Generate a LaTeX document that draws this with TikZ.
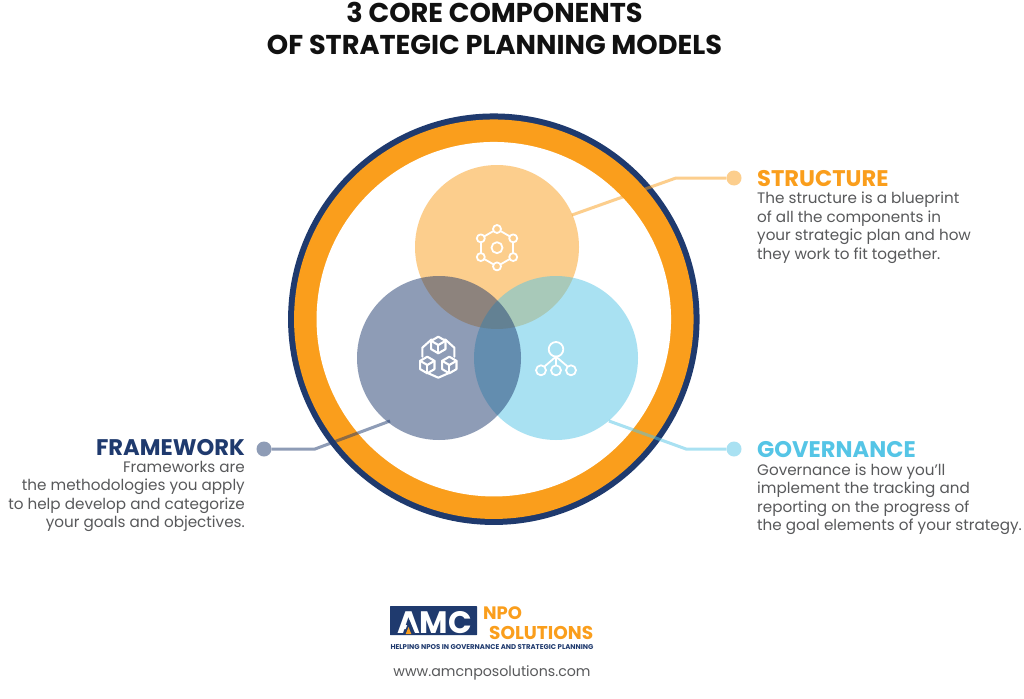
\documentclass[tikz,border=0pt]{standalone}
\usepackage{fontspec}
\usetikzlibrary{calc}
\setmainfont{Poppins}
\definecolor{ringorange}{HTML}{FA9E1C}
\definecolor{navy}{HTML}{1F3A6E}
\definecolor{sky}{HTML}{55C5E6}
\definecolor{bodygray}{HTML}{58595B}
\definecolor{titleblack}{HTML}{111111}
\tikzset{
  px/.style={x=1pt,y=-1pt},
  venn/.style={circle,minimum size=164pt,inner sep=0pt,fill opacity=.5,text opacity=1},
  dotend/.style={circle,minimum size=15pt,inner sep=0pt,fill opacity=.5},
  leader/.style={line width=3pt,opacity=.5},
  head/.style={font=\bfseries\fontsize{22.6}{24}\selectfont,inner sep=0pt},
  copyr/.style={font=\fontsize{15.2}{18.5}\selectfont,text=bodygray,inner sep=0pt,align=left},
  copyl/.style={font=\fontsize{15.2}{18.5}\selectfont,text=bodygray,inner sep=0pt,align=right},
  ico/.style={draw=white,line width=1.8pt,fill=none,line join=round,line cap=round},
  cubeline/.style={ico,line width=2.1pt},
  pics/isocube/.style={code={
    \draw[cubeline] (90:8.3) -- (30:8.3) -- (-30:8.3) -- (-90:8.3) -- (-150:8.3) -- (150:8.3) -- cycle;
    \draw[cubeline] (0,0) -- (-30:8.3);
    \draw[cubeline] (0,0) -- (-150:8.3);
    \draw[cubeline] (0,0) -- (90:8.3);
  }},
}
\begin{document}
\begin{tikzpicture}[px]
\useasboundingbox (0,0) rectangle (1024,698);
\fill[white] (0,0) rectangle (1024,698);
% ring
\node (ringouter) [circle,fill=navy,minimum size=411.5pt,inner sep=0pt] at (493.8,319.2) {};
\node (ringmid) [circle,fill=ringorange,minimum size=399.5pt,inner sep=0pt] at (493.8,319.2) {};
\node (ringinner) [circle,fill=white,minimum size=354.5pt,inner sep=0pt] at (493.8,319.2) {};
% title
\node (title) [font=\bfseries\fontsize{27.2}{32}\selectfont,text=titleblack,align=center,inner sep=0pt] at (494.5,28) {3 CORE COMPONENTS\\OF STRATEGIC PLANNING MODELS};
% circles
\node (top) [venn,fill=ringorange] at (497,247) {};
\node (right) [venn,fill=sky] at (556,358) {};
\node (left) [venn,fill=navy] at (439,358) {};
% ends
\node (sdot) [dotend,fill=ringorange] at (734,178) {};
\node (gdot) [dotend,fill=sky] at (734,449) {};
\node (fdot) [dotend,fill=navy] at (264,449) {};
\coordinate (sa) at (572,215);
\coordinate (sb) at (676,178);
\coordinate (ga) at (609,421);
\coordinate (gb) at (686,449);
\coordinate (fa) at (390,421);
\coordinate (fb) at (315,449);
\draw[leader,draw=ringorange] (sa) -- (sb) -- (sdot);
\draw[leader,draw=sky] (ga) -- (gb) -- (gdot);
\draw[leader,draw=navy] (fa) -- (fb) -- (fdot);
% text
\node (shead) [head,text=ringorange,anchor=west] at (757,179) {STRUCTURE};
\node (sbody) [copyr,anchor=north west] at (757,192) {The structure is a blueprint\\of all the components in\\your strategic plan and how\\they work to fit together.};
\node (ghead) [head,text=sky,anchor=west] at (757,450) {GOVERNANCE};
\node (gbody) [copyr,anchor=north west] at (757,463.5) {Governance is how you'll\\implement the tracking and\\reporting on the progress of\\the goal elements of your strategy.};
\node (fhead) [head,text=navy,anchor=east] at (245,448) {FRAMEWORK};
\node (fbody) [copyl,anchor=north east] at (245,461) {Frameworks are\\the methodologies you apply\\to help develop and categorize\\your goals and objectives.};
% hexagon icon
\begin{scope}[shift={(497,247.7)}]
\foreach \a in {30,90,150,210,270,330}{
  \draw[ico] (\a:18.7) circle (4);
}
\draw[ico] (0,0) circle (5.5);
\foreach \a/\b in {30/90,90/150,150/210,210/270,270/330,330/390}{
  \draw[ico] ($(\a:18.7)!.24!(\b:18.7)$) -- ($(\a:18.7)!.76!(\b:18.7)$);
}
\end{scope}
% network icon
\draw[ico] (556,349.3) circle (7.3);
\draw[ico] (541,370.3) circle (5);
\draw[ico] (556,370.3) circle (5);
\draw[ico] (571,370.3) circle (5);
\draw[ico] (556,356.6) -- (556,365.3);
\draw[ico] (556,356.6) -- (544.5,366.5);
\draw[ico] (556,356.6) -- (567.5,366.5);
% cubes icon
\pic at (438.3,345) {isocube};
\pic at (427.3,365) {isocube};
\pic at (449.3,365) {isocube};
\draw[cubeline] (431.7,339.3) -- (422.3,347.7) -- (422.3,356.7);
\draw[cubeline] (445,339.3) -- (454.3,347.7) -- (454.3,356.7);
\draw[cubeline] (428.3,373.3) -- (438.3,377.7) -- (448.3,373.3);
% logo
\node (logobox) [fill=navy,minimum width=87pt,minimum height=29pt,inner sep=0pt,rounded corners=.5pt] at (433.5,620.5) {};
\node (amc) [font=\bfseries\fontsize{31}{31}\selectfont,text=white,inner sep=0pt] at (434.5,623) {AMC};
\fill[navy] (409.5,620) -- (403.5,634.5) -- (415.5,634.5) -- cycle;
\fill[ringorange] (408.5,627) -- (405.7,634) -- (411.3,634) -- cycle;
\node (npo) [font=\bfseries\fontsize{18}{18}\selectfont,text=ringorange,anchor=west,inner sep=0pt] at (483,613.5) {NPO};
\node (sol) [font=\bfseries\fontsize{18.5}{18}\selectfont,text=ringorange,anchor=west,inner sep=0pt] at (489,633) {SOLUTIONS};
\node (tag) [font=\bfseries\fontsize{6.95}{8}\selectfont,text=navy,inner sep=0pt] at (492,647) {HELPING NPOS IN GOVERNANCE AND STRATEGIC PLANNING};
\node (url) [font=\fontsize{14.2}{15}\selectfont,text=bodygray,inner sep=0pt] at (492,673) {www.amcnposolutions.com};
\end{tikzpicture}
\end{document}
